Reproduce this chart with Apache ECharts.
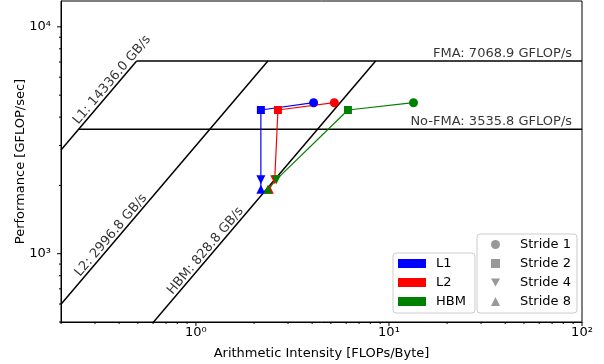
<!DOCTYPE html>
<html><head><meta charset="utf-8">
<script src="https://cdn.jsdelivr.net/npm/echarts@6/dist/echarts.min.js"></script>
<style>html,body{margin:0;padding:0;background:#fff}#c{width:604px;height:364px}</style>
</head><body><div id="c"></div>
<script>
// ---- data ----
const strideNames = ['Stride 1', 'Stride 2', 'Stride 4', 'Stride 8'];
const levelNames = ['L1', 'L2', 'HBM'];
const bandwidths = [14336.0, 2996.8, 828.8];          // GB/s
const peakNames = ['FMA', 'No-FMA'];
const peaks = [7068.9, 3535.8];                        // GFLOP/s
const l1Intensity = [4.07, 2.17, 2.17, 2.17];
const l1Perf = [4630, 4300, 2120, 1925];
const l2Intensity = [5.21, 2.66, 2.56, 2.40];
const l2Perf = [4630, 4300, 2120, 1925];
const hbmIntensity = [13.4, 6.13, 2.61, 2.36];
const hbmPerf = [4630, 4300, 2120, 1925];
const xMajorTicks = [1, 10, 100];
const xMinorTicks = [0.2, 0.3, 0.4, 0.5, 0.6, 0.7, 0.8, 0.9, 2, 3, 4, 5, 6, 7, 8, 9, 20, 30, 40, 50, 60, 70, 80, 90];
const yMajorTicks = [1000, 10000];
const yMinorTicks = [500, 600, 700, 800, 900, 2000, 3000, 4000, 5000, 6000, 7000, 8000, 9000];

// ---- layout / style ----
const xMin = 0.2, xMax = 100, yMin = 500, yMax = 13000;
const FONT = 'DejaVu Sans';
const FS = 13;
const levelColors = ['#0000ff', '#ff0000', '#008000'];
const strideSymbols = ['circle', 'rect', 'path://M0,0L10,0L5,9Z', 'triangle'];
const strideSizes = [9, 8, 9, 9];
const diagLabelX = [0.39, 0.385, 1.19];
const peakLabelX = 88.8;
const labelRotate = 49.6;
const sup = {'0': '\u2070', '1': '\u00b9', '2': '\u00b2', '3': '\u00b3', '4': '\u2074'};

function logLabel(v) {
  const l = Math.log10(v);
  const r = Math.round(l);
  if (Math.abs(l - r) > 1e-6) return '';
  return '10' + String(r).split('').map(c => sup[c] || c).join('');
}

const series = [];

// roofline diagonals
bandwidths.forEach((bw, i) => {
  series.push({
    type: 'line', silent: true, symbol: 'none', z: 2, clip: true,
    lineStyle: {color: '#000', width: 1.5},
    data: [[xMin, bw * xMin], [peaks[0] / bw, peaks[0]]]
  });
  series.push({
    type: 'scatter', silent: true, symbolSize: 0, z: 3,
    data: [[diagLabelX[i], bw * diagLabelX[i]]],
    label: {show: true, position: 'inside', formatter: levelNames[i] + ': ' + bw.toFixed(1) + ' GB/s',
      rotate: labelRotate, align: 'center', verticalAlign: 'bottom',
      color: '#000', fontFamily: FONT, fontSize: FS}
  });
});
// roofline horizontals
peaks.forEach((pk, i) => {
  series.push({
    type: 'line', silent: true, symbol: 'none', z: 2,
    lineStyle: {color: '#000', width: 1.5},
    data: [[pk / bandwidths[0], pk], [xMax, pk]]
  });
  series.push({
    type: 'scatter', silent: true, symbolSize: 0, z: 3,
    data: [[peakLabelX, pk]],
    label: {show: true, position: 'inside', formatter: peakNames[i] + ': ' + pk.toFixed(1) + ' GFLOP/s',
      align: 'right', verticalAlign: 'bottom', padding: [0, 0, 1, 0],
      color: '#000', fontFamily: FONT, fontSize: FS}
  });
});

// measurements
const levelData = [[l1Intensity, l1Perf], [l2Intensity, l2Perf], [hbmIntensity, hbmPerf]];
levelData.forEach(([ai, pf], i) => {
  series.push({
    name: levelNames[i], type: 'line', z: 5,
    color: levelColors[i],
    lineStyle: {color: levelColors[i], width: 1.2},
    itemStyle: {color: levelColors[i]},
    data: ai.map((x, k) => ({value: [x, pf[k]], symbol: strideSymbols[k], symbolSize: strideSizes[k]}))
  });
});
// stride legend dummies
strideNames.forEach((n, k) => {
  series.push({name: n, type: 'scatter', data: [], color: '#808080', symbol: strideSymbols[k]});
});

// ticks
function tickSeries(vals, axis, len) {
  return {
    type: 'custom', silent: true, clip: false, z: 20,
    data: vals.map(v => axis === 'x' ? [v, yMin] : [xMin, v]),
    renderItem: (p, api) => {
      const pt = api.coord([api.value(0), api.value(1)]);
      const s = axis === 'x'
        ? {x1: pt[0], y1: pt[1], x2: pt[0], y2: pt[1] + len}
        : {x1: pt[0] - len, y1: pt[1], x2: pt[0], y2: pt[1]};
      return {type: 'line', shape: s, style: {stroke: '#000', lineWidth: 1}};
    }
  };
}
series.push(tickSeries(xMajorTicks, 'x', 4));
series.push(tickSeries(xMinorTicks, 'x', 2));
series.push(tickSeries(yMajorTicks, 'y', 4));
series.push(tickSeries(yMinorTicks, 'y', 2));

const legendCommon = {
  orient: 'vertical', itemHeight: 9, itemGap: 6,
  borderColor: '#cccccc', borderWidth: 1, borderRadius: 3,
  backgroundColor: 'rgba(255,255,255,0.8)',
  selectedMode: false
};

const option = {
  animation: false,
  backgroundColor: '#fff',
  textStyle: {fontFamily: FONT},
  grid: {left: 61, right: 22, top: 1, bottom: 42, containLabel: false, outerBoundsMode: 'none',
    show: true, borderColor: '#000', borderWidth: 1, backgroundColor: 'transparent'},
  xAxis: {
    type: 'log', logBase: 10, min: xMin, max: xMax,
    name: 'Arithmetic Intensity [FLOPs/Byte]', nameLocation: 'middle', nameGap: 25, nameMoveOverlap: false,
    nameTextStyle: {fontFamily: FONT, fontSize: FS, color: '#000'},
    axisLine: {show: true, lineStyle: {color: '#000', width: 1}},
    axisTick: {show: false}, splitLine: {show: false}, minorTick: {show: false},
    axisLabel: {formatter: logLabel, margin: 4, fontFamily: FONT, fontSize: FS, color: '#000', showMinLabel: false, showMaxLabel: true}
  },
  yAxis: {
    type: 'log', logBase: 10, min: yMin, max: yMax,
    name: 'Performance [GFLOP/sec]', nameLocation: 'middle', nameGap: 34, nameMoveOverlap: false,
    nameTextStyle: {fontFamily: FONT, fontSize: FS, color: '#000'},
    axisLine: {show: true, lineStyle: {color: '#000', width: 1}},
    axisTick: {show: false}, splitLine: {show: false}, minorTick: {show: false},
    axisLabel: {formatter: logLabel, margin: 10, fontFamily: FONT, fontSize: FS, color: '#000', showMinLabel: false, showMaxLabel: false}
  },
  legend: [
    Object.assign({}, legendCommon, {
      left: 393, top: 253, padding: [4, 9, 5, 5], itemWidth: 28,
      textStyle: {fontFamily: FONT, fontSize: FS, color: '#000', padding: [0, 0, 0, 5]},
      data: levelNames.map(n => ({name: n, icon: 'rect'}))
    }),
    Object.assign({}, legendCommon, {
      left: 477, top: 234, padding: [4, 6, 5, 14], itemWidth: 9,
      textStyle: {fontFamily: FONT, fontSize: FS, color: '#000', padding: [0, 0, 0, 15]},
      data: strideNames.map((n, k) => ({name: n, icon: strideSymbols[k]}))
    })
  ],
  series: series
};

const chart = echarts.init(document.getElementById('c'), null, {renderer: 'canvas'});
chart.setOption(option);
</script>
</body></html>
